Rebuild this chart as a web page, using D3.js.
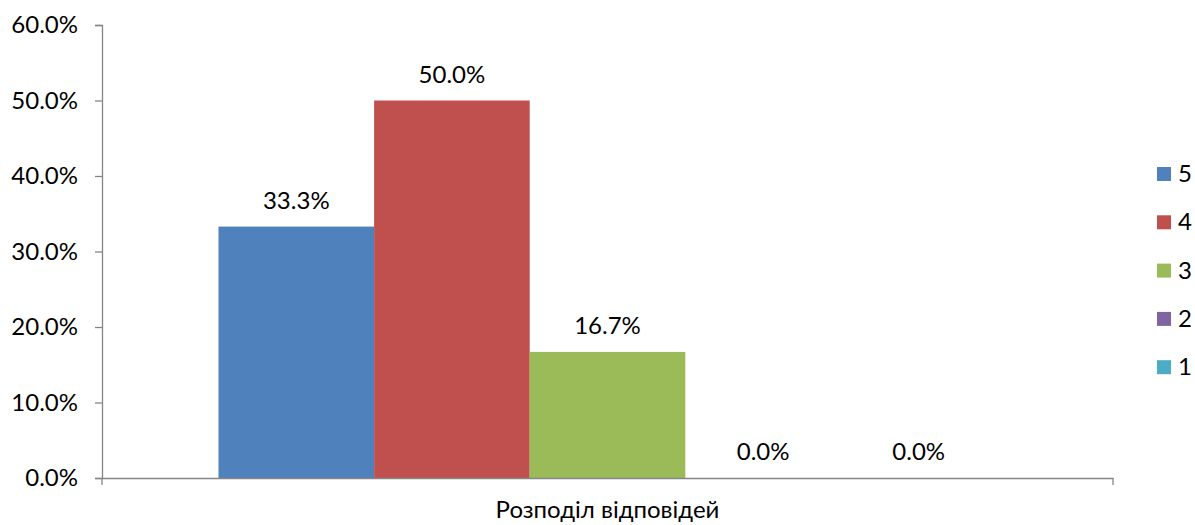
<!DOCTYPE html>
<html>
<head>
<meta charset="utf-8">
<script src="https://cdn.jsdelivr.net/npm/d3@7"></script>
<style>
  body { margin: 0; background: #fff; }
  text { font-family: Lato, "Open Sans", sans-serif; fill: #000; }
</style>
</head>
<body>
<div id="chart"></div>
<script>
// chart data
var series = ["5", "4", "3", "2", "1"];
var values = [0.333, 0.5, 0.167, 0, 0];
var category = "Розподіл відповідей";
var yTicks = [0, 0.1, 0.2, 0.3, 0.4, 0.5, 0.6];
var colors = ["#4F81BD", "#C0504D", "#9BBB59", "#8064A2", "#4BACC6"];

var W = 1195, H = 525;
var margin = { top: 25, right: 82, bottom: 47, left: 102 },
    width = W - margin.left - margin.right,
    height = H - margin.top - margin.bottom;
var fontSize = "24px";

var svg = d3.select("#chart")
    .append("svg")
    .attr("width", W)
    .attr("height", H);

var g = svg.append("g")
    .attr("transform", "translate(" + margin.left + "," + margin.top + ")");

var y = d3.scaleLinear().domain([0, 0.6]).range([height, 0]);

// one category, bars inside it
var x0 = d3.scaleBand().domain([category]).range([0, width]);
var x1 = d3.scaleBand().domain(series).range([116.5, width - 116.5]);

var fmt = d3.format(".1%");

// y axis
var yAxis = g.append("g")
    .call(d3.axisLeft(y).tickValues(yTicks).tickFormat(fmt).tickSize(7).tickPadding(17));
yAxis.select(".domain").attr("stroke", "#868686").attr("stroke-width", 1.3);
yAxis.selectAll(".tick line").attr("stroke", "#868686").attr("stroke-width", 1.3);
yAxis.selectAll(".tick text").style("font-size", fontSize).attr("fill", "#000");

// bars
g.selectAll(".bar")
    .data(values)
    .enter()
    .append("rect")
    .attr("x", (d, i) => x1(series[i]))
    .attr("y", d => y(d))
    .attr("width", x1.bandwidth())
    .attr("height", d => height - y(d))
    .attr("fill", (d, i) => colors[i]);

// x axis
var xAxis = g.append("g")
    .attr("transform", "translate(0," + height + ")")
    .call(d3.axisBottom(x0).tickSize(0).tickFormat(""));
xAxis.select(".domain").attr("stroke", "#868686").attr("stroke-width", 1.3);
[0, width].forEach(function (xx) {
    g.append("line")
        .attr("x1", xx).attr("x2", xx)
        .attr("y1", height).attr("y2", height + 7)
        .attr("stroke", "#868686").attr("stroke-width", 1.3);
});

g.append("text")
    .attr("x", x0(category) + x0.bandwidth() / 2)
    .attr("y", height + 40)
    .attr("text-anchor", "middle")
    .style("font-size", fontSize)
    .text(category);

// data labels
g.selectAll(".lbl")
    .data(values)
    .enter()
    .append("text")
    .attr("x", (d, i) => x1(series[i]) + x1.bandwidth() / 2)
    .attr("y", d => y(d) - 18)
    .attr("text-anchor", "middle")
    .style("font-size", fontSize)
    .text(d => fmt(d));

// legend
var legend = svg.append("g").attr("transform", "translate(1157,174)");
var items = legend.selectAll(".item")
    .data(series)
    .enter()
    .append("g")
    .attr("transform", (d, i) => "translate(0," + i * 48.3 + ")");
items.append("rect")
    .attr("x", 0).attr("y", -7)
    .attr("width", 14).attr("height", 14)
    .attr("fill", (d, i) => colors[i]);
items.append("text")
    .attr("x", 21).attr("y", 8)
    .style("font-size", fontSize)
    .text(d => d);
</script>
</body>
</html>
